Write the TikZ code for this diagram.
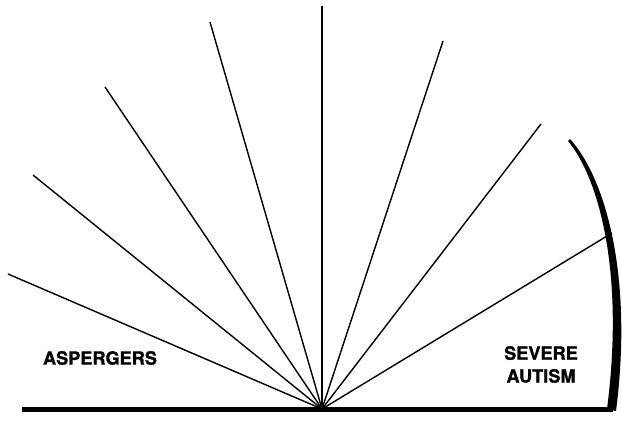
\documentclass[tikz,border=0pt]{standalone}
\usepackage{fontspec}
\setmainfont{TeX Gyre Heros}
\newfontfamily\heavyfont[FakeBold=1.2]{TeX Gyre Heros}
\begin{document}
\begin{tikzpicture}[x=0.03cm, y=-0.03cm, ray/.style={line width=1.2pt},
  label/.style={font=\heavyfont\bfseries\fontsize{15.5}{19.5}\selectfont, align=center}]
\useasboundingbox (0,0) rectangle (622,421);
% rays out of the base point
\coordinate (o) at (322,409);
\coordinate (r1) at (8,274);
\coordinate (r2) at (33,175);
\coordinate (r3) at (105,87);
\coordinate (r4) at (210,22);
\coordinate (r5) at (322,6);
\coordinate (r6) at (443,41);
\coordinate (r7) at (541,124);
\coordinate (r8) at (612,233);
\foreach \i in {1,...,8}
  \draw[ray] (o) -- (r\i);
% base line and the curved edge
\coordinate (bl) at (22,409.5);
\coordinate (br) at (613,409.5);
\draw[line width=3.8pt] (bl) -- (br);
\fill (570,139) .. controls (603,175) and (634,270) .. (616,411)
  -- (607,409) .. controls (625,270) and (598,177) .. (568,141) -- cycle;
% labels
\node[label] (asp) at (100,358) {ASPERGERS};
\node[label] (sev) at (541,364.5) {SEVERE\\AUTISM};
\end{tikzpicture}
\end{document}
